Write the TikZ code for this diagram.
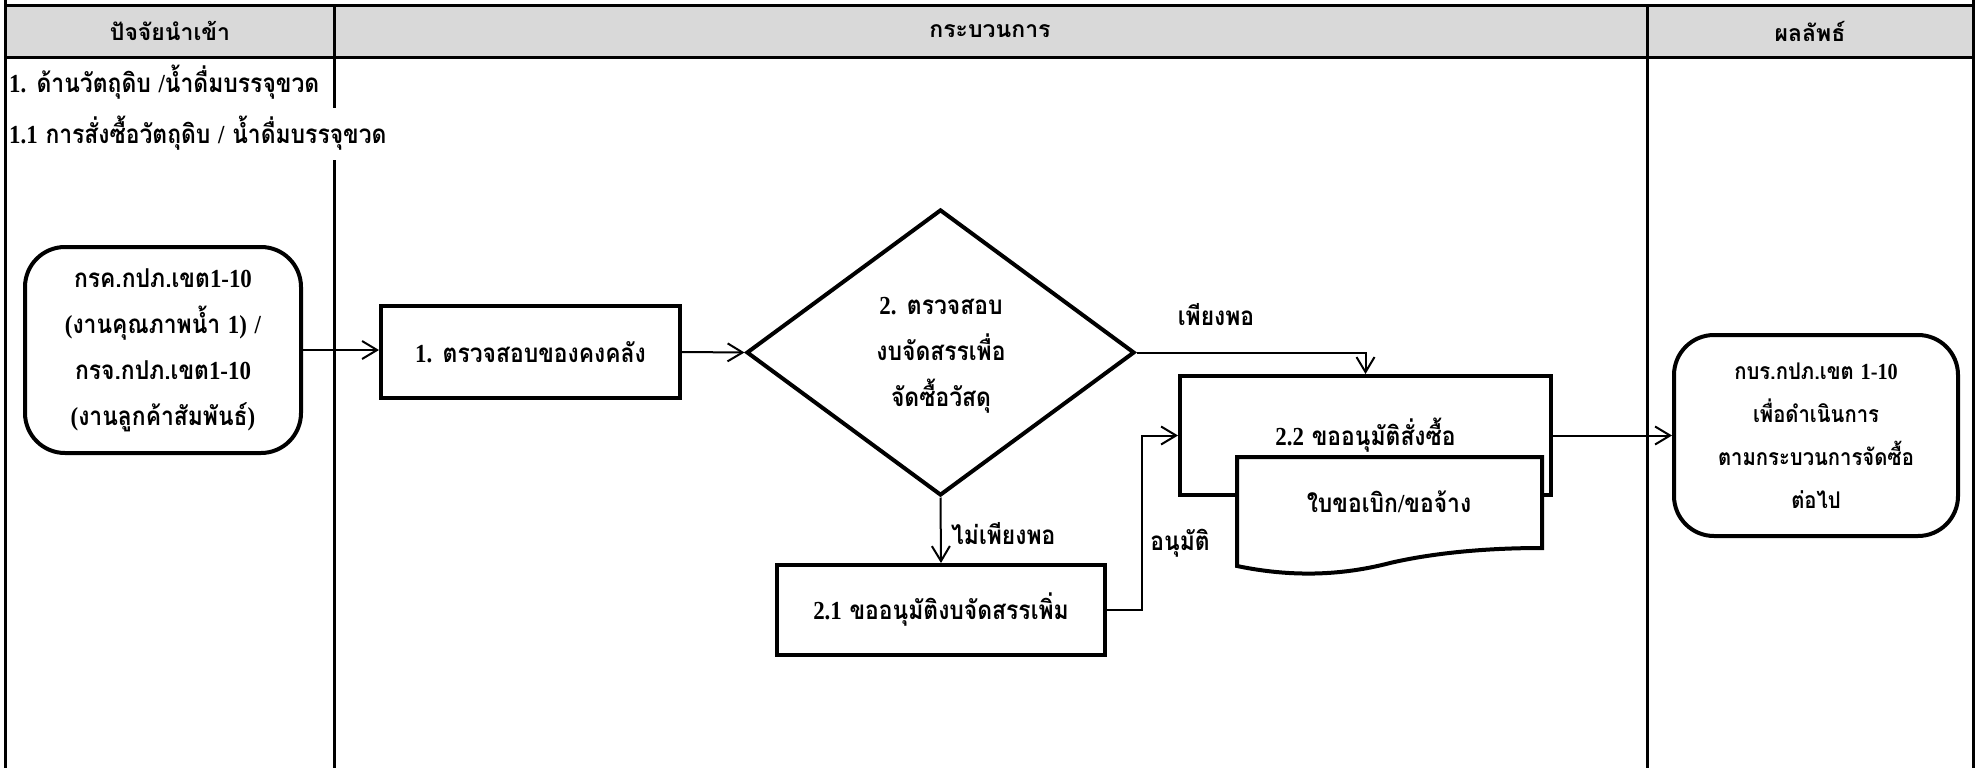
\documentclass[tikz,border=0pt]{standalone}
\usepackage{fontspec}
\setmainfont{Loma}[Script=Thai, FakeStretch=0.88]
\newfontfamily\headfont{Loma}[Script=Thai]
\newfontfamily\latfont{Liberation Serif}[FakeStretch=0.88]
\usetikzlibrary{shapes.geometric,arrows.meta}
\newcommand\lt[1]{{\latfont #1}}
\definecolor{headgray}{RGB}{217,217,217}
\tikzset{
  tbl/.style={line width=3pt},
  headtxt/.style={font=\headfont\bfseries\fontsize{23}{28}\selectfont, inner sep=0pt},
  txt/.style={font=\bfseries\fontsize{26}{46}\selectfont, align=center, inner sep=0pt},
  smalltxt/.style={font=\bfseries\fontsize{23}{43}\selectfont, align=center, inner sep=0pt},
  boxline/.style={draw, line width=4pt, inner sep=0pt, fill=white},
  flow/.style={line width=2pt, -{Straight Barb[length=15pt,width=18pt,line width=2pt]}},
}
\begin{document}
\begin{tikzpicture}[x=1pt,y=-1pt]
\useasboundingbox (0,0) rectangle (1976,768);

% table frame and header band
\fill[headgray] (5.5,5.5) rectangle (1973.5,57.5);
\draw[tbl] (5.5,0) -- (5.5,768);
\draw[tbl] (1973.5,0) -- (1973.5,768);
\draw[tbl] (5.5,5.5) -- (1973.5,5.5);
\draw[tbl] (5.5,57.5) -- (1973.5,57.5);
\draw[tbl] (334,5.5) -- (334,108);
\draw[tbl] (334,160) -- (334,768);
\draw[tbl] (1647,5.5) -- (1647,768);

% column headings
\node[headtxt] (hin) at (170,31) {ปัจจัยนำเข้า};
\node[headtxt] (hproc) at (990,31) {กระบวนการ};
\node[headtxt] (hout) at (1810,31) {ผลลัพธ์};

% section titles
\node[txt, anchor=west] (sec1) at (9,82) {\lt{1.} ด้านวัตถุดิบ \lt{/}น้ำดื่มบรรจุขวด};
\node[txt, anchor=west] (sec11) at (9,133) {\lt{1.1} การสั่งซื้อวัตถุดิบ \lt{/} น้ำดื่มบรรจุขวด};

% flow nodes
\node[boxline, txt, rounded corners=40pt, minimum width=276pt, minimum height=206pt] (src) at (163,350)
  {กรค.กปภ.เขต\lt{1-10}\\\lt{(}งานคุณภาพน้ำ \lt{1)} \lt{/}\\กรจ.กปภ.เขต\lt{1-10}\\\lt{(}งานลูกค้าสัมพันธ์\lt{)}};
\node[boxline, txt, minimum width=299pt, minimum height=92pt] (stock) at (530.5,352) {\lt{1.} ตรวจสอบของคงคลัง};
\node[draw, line width=4pt, diamond, inner sep=0pt, minimum width=388pt, minimum height=286pt] (chk) at (940.5,352.5) {};
\node[txt] (chktxt) at (941,355.5) {\lt{2.} ตรวจสอบ\\งบจัดสรรเพื่อ\\จัดซื้อวัสดุ};
\node[boxline, txt, minimum width=328pt, minimum height=90pt] (extra) at (941,610) {\lt{2.1} ขออนุมัติงบจัดสรรเพิ่ม};
\node[boxline, txt, minimum width=371pt, minimum height=119pt] (req) at (1365.5,435.5) {\lt{2.2} ขออนุมัติสั่งซื้อ};

% document shape over the approval box
\draw[line width=4pt, fill=white, line join=miter]
  (1237,457) -- (1542,457) -- (1542,548)
  .. controls (1470,548) and (1420,556) .. (1390,563)
  .. controls (1340,576) and (1290,577) .. (1237,566) -- cycle;
\node[txt] (form) at (1389,502) {ใบขอเบิก\lt{/}ขอจ้าง};

\node[boxline, smalltxt, rounded corners=40pt, minimum width=284pt, minimum height=201pt] (out) at (1816,435.5)
  {กบร.กปภ.เขต \lt{1-10}\\เพื่อดำเนินการ\\ตามกระบวนการจัดซื้อ\\ต่อไป};

% connector labels
\node[txt] (lenough) at (1216,315) {เพียงพอ};
\node[txt, anchor=west] (lshort) at (951,534) {ไม่เพียงพอ};
\node[txt] (lapprove) at (1180,543) {อนุมัติ};

% connectors
\draw[flow] (src.east) -- (src.east -| stock.west);
\draw[flow] (stock.east) -- (chk.west);
\draw[flow] (chk.east) -| (req.north);
\draw[flow] (chk.south) -- (extra.north);
\draw[flow] (extra.east) -- ++(35,0) |- (req.west);
\draw[flow] (req.east) -- (out.west);
\end{tikzpicture}
\end{document}
